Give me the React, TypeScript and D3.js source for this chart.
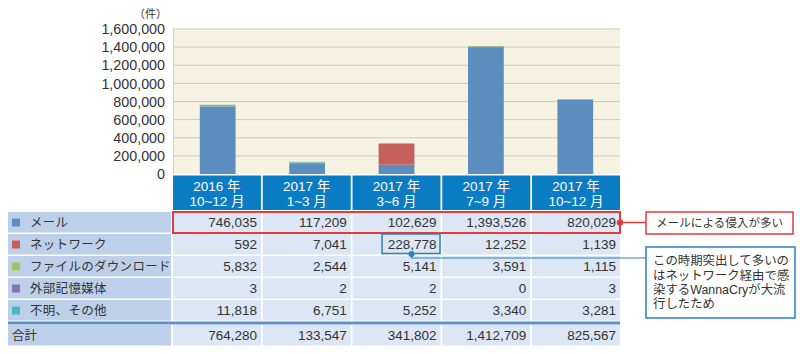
import * as d3 from 'd3'

const periods = ['2016Q4', '2017Q1', '2017Q2', '2017Q3', '2017Q4']
const periodYears = ['2016 年', '2017 年', '2017 年', '2017 年', '2017 年']
const periodMonths = ['10~12 月', '1~3 月', '3~6 月', '7~9 月', '10~12 月']

const seriesKeys = ['mail', 'network', 'file', 'media', 'other']
const seriesNames = ['メール', 'ネットワーク', 'ファイルのダウンロード', '外部記憶媒体', '不明、その他']
const seriesColors = ['#5b8dbf', '#c6605d', '#a6c162', '#8a73ad', '#4db5c7']

const mail = [746035, 117209, 102629, 1393526, 820029]
const network = [592, 7041, 228778, 12252, 1139]
const fileDl = [5832, 2544, 5141, 3591, 1115]
const media = [3, 2, 2, 0, 3]
const other = [11818, 6751, 5252, 3340, 3281]
const totals = [764280, 133547, 341802, 1412709, 825567]

const yTicks = [0, 200000, 400000, 600000, 800000, 1000000, 1200000, 1400000, 1600000]

const note1 = 'メールによる侵入が多い'
const note2 = ['この時期突出して多いの', 'はネットワーク経由で感', '染するWannaCryが大流', '行したため']

const W = 800
const H = 354
const plot = { left: 173, right: 620, top: 29, bottom: 174 }
const font = '"Liberation Sans", "Noto Sans CJK JP", sans-serif'

export default function App() {
  const table = periods.map((p, i) => ({
    period: p,
    mail: mail[i],
    network: network[i],
    file: fileDl[i],
    media: media[i],
    other: other[i],
  }))
  const rows = [mail, network, fileDl, media, other]
  const stacked = d3.stack<any>().keys(seriesKeys)(table)

  const y = d3.scaleLinear().domain([0, 1600000]).range([plot.bottom, plot.top])
  const col = d3.scaleBand().domain(periods).range([plot.left, plot.right]).paddingInner(0.02)
  const bar = d3.scaleBand().domain(periods).range([plot.left, plot.right]).paddingInner(0.6).paddingOuter(0.3)
  const fmt = d3.format(',')

  const rowTop = (i: number) => 212 + i * 22
  const rowH = 20.5
  const totalTop = 325

  // callout anchors
  const c5 = col('2017Q4')! + col.bandwidth()
  const c3x = col('2017Q2')!
  const netTop = rowTop(1)

  return (
    <svg width={W} height={H} style={{ position: 'absolute', left: 0, top: 0 }} fontFamily={font}>
      <rect width={W} height={H} fill="#fff" />
      {/* plot */}
      <rect x={plot.left} y={plot.top} width={plot.right - plot.left} height={plot.bottom - plot.top} fill="#f7f3e3" />
      {yTicks.map(t => (
        <g key={t}>
          {t > 0 && <line x1={plot.left} x2={plot.right} y1={y(t)} y2={y(t)} stroke="#cfcab8" strokeWidth={1} />}
          <text x={165} y={y(t)} dy="0.36em" textAnchor="end" fontSize={14.3} fill="#333">{fmt(t)}</text>
        </g>
      ))}
      <line x1={plot.left + 0.5} x2={plot.left + 0.5} y1={plot.top} y2={plot.bottom} stroke="#d6d1bf" />
      <text x={167} y={18} textAnchor="end" fontSize={11} fill="#333">（件）</text>
      {stacked.map((s, si) => (
        <g key={s.key} fill={seriesColors[si]}>
          {s.map((d, i) => (
            <rect key={i} x={bar(periods[i])} width={bar.bandwidth()} y={y(d[1])} height={Math.max(0, y(d[0]) - y(d[1]))} />
          ))}
        </g>
      ))}

      {/* header */}
      {periods.map((p, i) => (
        <g key={p}>
          <rect x={col(p)} y={175.5} width={col.bandwidth()} height={34.5} fill="#0a7cc4" />
          <text x={col(p)! + col.bandwidth() / 2} y={191} textAnchor="middle" fontSize={13.5} fill="#fff">{periodYears[i]}</text>
          <text x={col(p)! + col.bandwidth() / 2} y={206} textAnchor="middle" fontSize={13.5} fill="#fff">{periodMonths[i]}</text>
        </g>
      ))}

      {/* series rows */}
      {rows.map((vals, r) => (
        <g key={seriesKeys[r]}>
          <rect x={8} y={rowTop(r)} width={163} height={rowH} fill="#bdd0ea" />
          <rect x={12} y={rowTop(r) + 6.5} width={8} height={8} fill={seriesColors[r]} />
          <text x={30} y={rowTop(r) + rowH / 2} dy="0.36em" fontSize={12.5} letterSpacing={0.3} fill="#333">{seriesNames[r]}</text>
          {periods.map((p, i) => (
            <g key={p}>
              <rect x={col(p)} y={rowTop(r)} width={col.bandwidth()} height={rowH} fill="#dce6f4" />
              <text x={col(p)! + col.bandwidth() - 4} y={rowTop(r) + rowH / 2} dy="0.36em" textAnchor="end" fontSize={13.5} fill="#333">{fmt(vals[i])}</text>
            </g>
          ))}
        </g>
      ))}
      <rect x={8} y={321.5} width={plot.right - 8} height={3} fill="#5d8fcb" />
      <rect x={8} y={totalTop} width={163} height={rowH} fill="#bdd0ea" />
      <text x={12} y={totalTop + rowH / 2} dy="0.36em" fontSize={12.5} fill="#333">合計</text>
      {periods.map((p, i) => (
        <g key={p}>
          <rect x={col(p)} y={totalTop} width={col.bandwidth()} height={rowH} fill="#dce6f4" />
          <text x={col(p)! + col.bandwidth() - 4} y={totalTop + rowH / 2} dy="0.36em" textAnchor="end" fontSize={13.5} fill="#333">{fmt(totals[i])}</text>
        </g>
      ))}

      {/* red callout */}
      <rect x={plot.left} y={rowTop(0)} width={c5 - plot.left} height={21} fill="none" stroke="#e23b3b" strokeWidth={2} />
      <line x1={c5} x2={646} y1={rowTop(0) + 10.5} y2={rowTop(0) + 10.5} stroke="#e23b3b" strokeWidth={1.5} />
      <circle cx={c5} cy={rowTop(0) + 10.5} r={3.2} fill="#e23b3b" />
      <rect x={646} y={212} width={147} height={22} fill="#fff" stroke="#e23b3b" strokeWidth={1.5} />
      <text x={656} y={223} dy="0.36em" fontSize={11.6} fill="#333">{note1}</text>

      {/* blue callout */}
      <rect x={c3x + 29.5} y={netTop} width={58} height={19.5} fill="none" stroke="#2a80c3" strokeWidth={1.5} />
      <polyline points={`${c3x + 59},${netTop + 20} ${c3x + 59},${netTop + 24} 646,${netTop + 24}`} fill="none" stroke="#2a80c3" strokeWidth={1.2} />
      <circle cx={c3x + 59} cy={netTop + 20} r={3} fill="#2a80c3" />
      <rect x={646} y={247} width={149} height={71} fill="#fff" stroke="#2a80c3" strokeWidth={1.5} />
      {note2.map((t, i) => (
        <text key={i} x={653} y={261 + i * 14.2} dy="0.36em" fontSize={12.4} fill="#333">{t}</text>
      ))}
    </svg>
  )
}
